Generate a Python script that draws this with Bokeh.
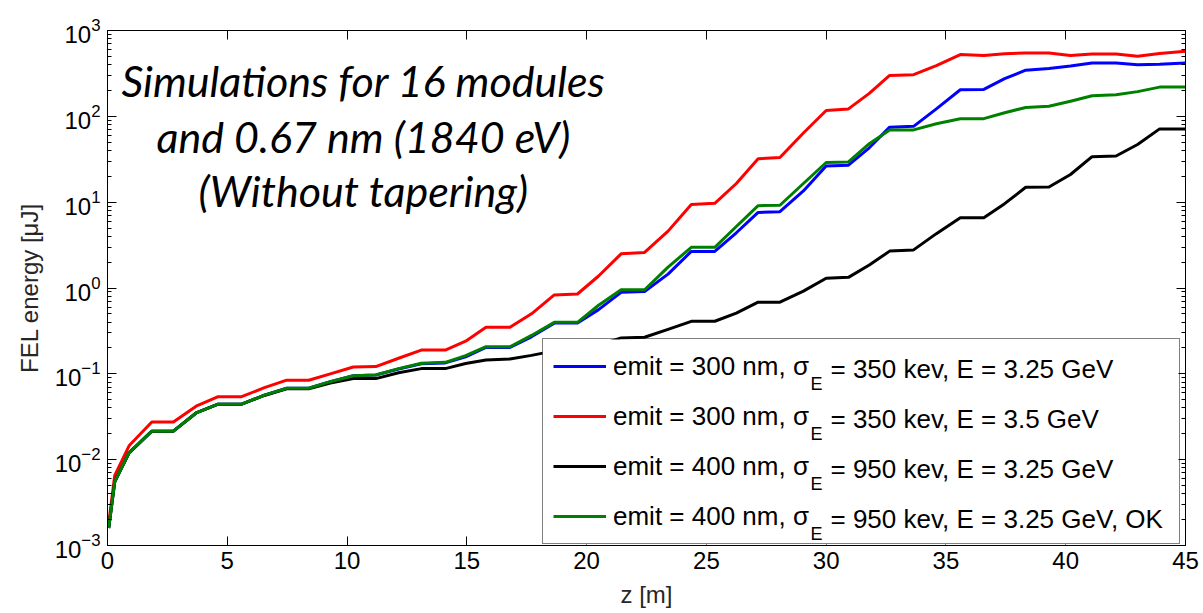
from bokeh.plotting import figure
from bokeh.models import (FixedTicker, LinearAxis, LogAxis, Legend, LegendItem,
                          Label, BoxAnnotation, CustomJSTickFormatter)
from bokeh.embed import file_html
from bokeh.resources import INLINE

# ---------------- data ----------------
z = [0.05, 0.3, 0.9, 1.85, 2.75,
     3.7, 4.62, 5.6,
     6.55, 7.48, 8.4,
     9.3, 10.26, 11.2,
     12.15, 13.1, 14.1,
     14.95, 15.8, 16.8,
     17.7, 18.65, 19.62,
     20.5, 21.44, 22.42,
     23.4, 24.37, 25.35,
     26.25, 27.16, 28.07,
     29.05, 30.0, 30.93,
     31.8, 32.65, 33.65,
     34.6, 35.6, 36.58,
     37.45, 38.33, 39.3,
     40.2, 41.1, 42.1,
     43.0, 43.92, 45.0]

e_blue = [1.6e-3, 5.5e-3, 1.2e-2, 0.0215, 0.0215,
          0.035, 0.0443, 0.0443,
          0.0565, 0.068, 0.068,
          0.081, 0.095, 0.097,
          0.114, 0.131, 0.134,
          0.158, 0.203, 0.203,
          0.27, 0.39, 0.39,
          0.56, 0.89, 0.91,
          1.45, 2.67, 2.67,
          4.4, 7.6, 7.74,
          13.5, 26.4, 27.0,
          43.0, 74.8, 76.4,
          122.0, 204.0, 206.0,
          275.0, 345.0, 360.0,
          385.0, 419.0, 419.0,
          400.0, 405.0, 419.0]

e_red = [1.8e-3, 6.5e-3, 1.45e-2, 0.0275, 0.0275,
         0.042, 0.0542, 0.0542,
         0.069, 0.0843, 0.0843,
         0.100, 0.120, 0.1216,
         0.152, 0.189, 0.189,
         0.24, 0.348, 0.348,
         0.5, 0.83, 0.851,
         1.38, 2.5, 2.6,
         4.6, 9.4, 9.7,
         16.5, 32.0, 33.2,
         64.0, 117.0, 122.0,
         185.0, 300.0, 306.0,
         390.0, 524.0, 510.0,
         535.0, 548.0, 548.0,
         510.0, 534.0, 534.0,
         500.0, 538.0, 573.0]

e_black = [1.6e-3, 5.5e-3, 1.2e-2, 0.0215, 0.0215,
           0.035, 0.0443, 0.0443,
           0.056, 0.067, 0.067,
           0.078, 0.088, 0.088,
           0.103, 0.115, 0.115,
           0.132, 0.145, 0.149,
           0.164, 0.185, 0.19,
           0.215, 0.262, 0.267,
           0.33, 0.409, 0.41,
           0.51, 0.683, 0.683,
           0.92, 1.3, 1.33,
           1.85, 2.69, 2.78,
           4.3, 6.6, 6.6,
           9.6, 14.9, 15.0,
           21.0, 33.9, 34.5,
           47.0, 71.4, 71.4]

e_green = [1.6e-3, 5.5e-3, 1.2e-2, 0.0215, 0.0215,
           0.035, 0.0443, 0.0443,
           0.0565, 0.068, 0.068,
           0.081, 0.095, 0.097,
           0.115, 0.133, 0.136,
           0.163, 0.207, 0.207,
           0.28, 0.398, 0.398,
           0.63, 0.953, 0.953,
           1.75, 2.98, 2.98,
           5.2, 9.1, 9.2,
           16.5, 29.0, 29.4,
           48.0, 69.5, 69.5,
           82.0, 93.5, 94.0,
           110.0, 127.0, 131.0,
           150.0, 174.0, 178.0,
           194.0, 219.0, 219.0]

series_names = ["emit = 300 nm, σ", "emit = 300 nm, σ", "emit = 400 nm, σ", "emit = 400 nm, σ"]
series_sub = ["E", "E", "E", "E"]
series_rest = ["= 350 kev, E = 3.25 GeV", "= 350 kev, E = 3.5 GeV",
               "= 950 kev, E = 3.25 GeV", "= 950 kev, E = 3.25 GeV, OK"]
series_colors = ["#0000FF", "#FF0000", "#000000", "#008000"]

x_ticks = [0, 5, 10, 15, 20, 25, 30, 35, 40, 45]
y_ticks = [1e-3, 1e-2, 1e-1, 1e0, 1e1, 1e2, 1e3]
y_minor = [m * d for d in [1e-3, 1e-2, 1e-1, 1e0, 1e1, 1e2] for m in range(2, 10)]

x_title = "z [m]"
y_title = "FEL energy [μJ]"
annotation_lines = ["Simulations for 16 modules", "and 0.67 nm (1840 eV)", "(Without tapering)"]

# ---------------- figure ----------------
FONT = "Liberation Sans"
p = figure(width=1203, height=613, x_range=(0, 45), y_range=(1e-3, 1e3),
           y_axis_type="log", output_backend="svg", toolbar_location=None,
           min_border_left=107, min_border_right=18, min_border_top=30,
           min_border_bottom=68)
p.background_fill_color = "white"
p.border_fill_color = "white"
p.outline_line_color = "black"
p.outline_line_width = 1
p.xgrid.visible = False
p.ygrid.visible = False

xt = FixedTicker(ticks=x_ticks, minor_ticks=[])
yt = FixedTicker(ticks=y_ticks, minor_ticks=y_minor)

for ax in p.xaxis:
    ax.ticker = xt
for ax in p.yaxis:
    ax.ticker = yt


def style_axis(ax, labels=True):
    ax.axis_line_color = "black"
    ax.major_tick_in = 9
    ax.major_tick_out = 0
    ax.minor_tick_in = 4
    ax.minor_tick_out = 0
    ax.major_tick_line_color = "black"
    ax.minor_tick_line_color = "black"
    if labels:
        ax.major_label_text_font = FONT
        ax.major_label_text_font_size = "24px"
        ax.major_label_text_color = "black"
    else:
        ax.formatter = CustomJSTickFormatter(code="return ''")
        ax.major_label_text_font_size = "1px"
        ax.major_label_standoff = 0


style_axis(p.xaxis[0])
style_axis(p.yaxis[0])
p.xaxis[0].major_label_standoff = 6
p.yaxis[0].major_label_standoff = 7
p.xaxis[0].axis_label = x_title
p.yaxis[0].axis_label = y_title
for ax in (p.xaxis[0], p.yaxis[0]):
    ax.axis_label_text_font = FONT
    ax.axis_label_text_font_size = "24px"
    ax.axis_label_text_font_style = "normal"
    ax.axis_label_text_color = "#262626"
p.xaxis[0].axis_label_standoff = 9
p.yaxis[0].axis_label_standoff = 9

top_ax = LinearAxis(ticker=xt)
style_axis(top_ax, labels=False)
p.add_layout(top_ax, "above")
right_ax = LogAxis(ticker=yt)
style_axis(right_ax, labels=False)
p.add_layout(right_ax, "right")

# ---------------- curves ----------------
series_values = [e_blue, e_red, e_black, e_green]
renderers = []
for vals, col in zip(series_values, series_colors):
    r = p.line(z, vals, line_color=col, line_width=3, line_join="round")
    renderers.append(r)

# ---------------- legend ----------------
# white panel under the legend (hides the curves), legend itself transparent
p.add_layout(BoxAnnotation(left=435, right=1071, bottom=1, top=206,
                           left_units="screen", right_units="screen",
                           bottom_units="screen", top_units="screen",
                           fill_color="white", fill_alpha=1.0, line_color=None,
                           level="annotation"))

legend = Legend(items=[LegendItem(label=n, renderers=[r]) for n, r in zip(series_names, renderers)],
                location=(435, 1), orientation="vertical",
                padding=10, spacing=16, glyph_width=53, glyph_height=34,
                label_height=34, label_width=556, label_standoff=7, margin=0,
                label_text_font=FONT, label_text_font_size="26px",
                label_text_color="black",
                border_line_color="black", border_line_width=1.5,
                background_fill_alpha=0.0)
p.add_layout(legend, "center")

row_y = [177, 127, 77, 27]
for yy, sub, rest in zip(row_y, series_sub, series_rest):
    p.add_layout(Label(x=703, y=yy - 15, x_units="screen", y_units="screen", text=sub,
                       text_font=FONT, text_font_size="18px", text_color="black",
                       text_baseline="middle", text_align="left", level="overlay"))
    p.add_layout(Label(x=723, y=yy, x_units="screen", y_units="screen", text=rest,
                       text_font=FONT, text_font_size="26px", text_color="black",
                       text_baseline="middle", text_align="left", level="overlay"))

# ---------------- annotation ----------------
for yy, line in zip([465, 409, 355], annotation_lines):
    p.add_layout(Label(x=256, y=yy, x_units="screen", y_units="screen", text=line,
                       text_font="Lato", text_font_style="italic", text_font_size="43px",
                       text_color="black", text_align="center", text_baseline="middle"))

open("out.html", "w").write(file_html(p, INLINE))
